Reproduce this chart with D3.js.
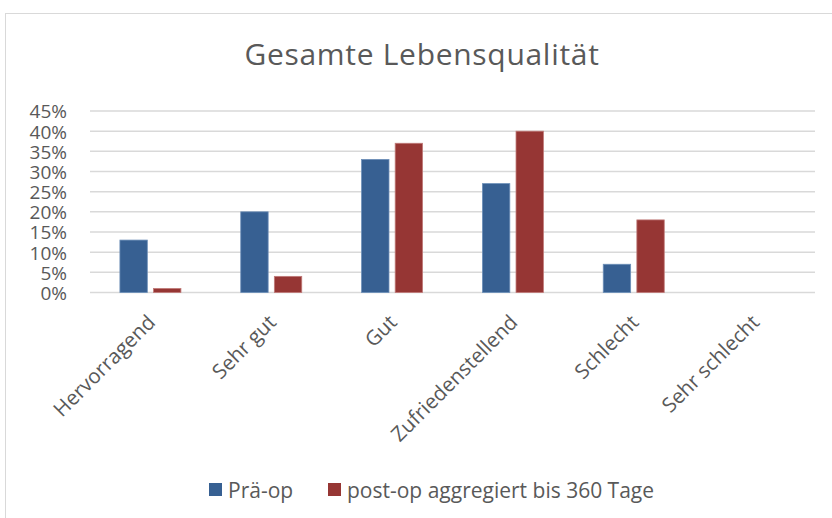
<!DOCTYPE html>
<html>
<head>
<meta charset="utf-8">
<script src="https://cdn.jsdelivr.net/npm/d3@7"></script>
<style>
  body { margin: 0; background: #fff; }
  text { font-family: "Open Sans", sans-serif; fill: #595959; }
</style>
</head>
<body>
<div id="chart"></div>
<script>
const categories = ["Hervorragend", "Sehr gut", "Gut", "Zufriedenstellend", "Schlecht", "Sehr schlecht"]
const seriesNames = ["Prä-op", "post-op aggregiert bis 360 Tage"]
const praeOp = [13, 20, 33, 27, 7, 0]
const postOp = [1, 4, 37, 40, 18, 0]
const yTicks = [0, 5, 10, 15, 20, 25, 30, 35, 40, 45]

const colors = ["#376092", "#963634"]

const W = 832, H = 518
const plot = { left: 90, right: 815, top: 111, bottom: 292.5 }

const svg = d3.select("#chart").append("svg")
    .attr("width", W)
    .attr("height", H)

// chart frame
svg.append("rect")
    .attr("x", 5.5).attr("y", 13.5)
    .attr("width", 840).attr("height", 520)
    .attr("fill", "#fff")
    .attr("stroke", "#d9d9d9")
    .attr("stroke-width", 1)

svg.append("text")
    .attr("x", 422).attr("y", 65)
    .attr("text-anchor", "middle")
    .style("font-size", "30px")
    .style("letter-spacing", "0.7px")
    .text("Gesamte Lebensqualität")

const x0 = d3.scaleBand()
    .domain(categories)
    .range([plot.left, plot.right])

const yScale = d3.scaleLinear()
    .domain([0, 45])
    .range([plot.bottom, plot.top])

// gridlines
svg.append("g")
    .selectAll("line")
    .data(yTicks)
    .join("line")
    .attr("x1", plot.left).attr("x2", plot.right)
    .attr("y1", d => yScale(d)).attr("y2", d => yScale(d))
    .attr("stroke", "#d9d9d9")
    .attr("stroke-width", 1.5)

// y axis labels
const yAxis = d3.axisLeft(yScale)
    .tickValues(yTicks)
    .tickFormat(d => d + "%")
    .tickSize(0)
    .tickPadding(0)

svg.append("g")
    .attr("transform", `translate(67,0)`)
    .call(yAxis)
    .call(g => g.select(".domain").remove())
    .selectAll("text")
    .style("font-size", "19px")
    .style("font-family", "'Open Sans', sans-serif")
    .attr("fill", "#595959")
    .attr("dy", "0.36em")

// bars
const barW = 27.4, barGap = 6.2
const data = categories.map((c, i) => ({ cat: c, vals: [praeOp[i], postOp[i]] }))

const groups = svg.append("g")
    .selectAll("g")
    .data(data)
    .join("g")
    .attr("transform", d => `translate(${x0(d.cat) + x0.bandwidth() / 2},0)`)

groups.selectAll("rect")
    .data(d => d.vals.map((v, k) => ({ v, k })))
    .join("rect")
    .attr("x", d => d.k === 0 ? -barW - barGap / 2 : barGap / 2)
    .attr("width", barW)
    .attr("y", d => yScale(d.v))
    .attr("height", d => yScale(0) - yScale(d.v))
    .attr("fill", d => colors[d.k])
    .attr("stroke", d => d.k === 0 ? "#6d8fb8" : "#c07b79")
    .attr("stroke-width", d => d.v > 0 ? 0.8 : 0)

// x labels rotated
svg.append("g")
    .selectAll("text")
    .data(categories)
    .join("text")
    .attr("transform", d => `translate(${x0(d) + x0.bandwidth() / 2 + 1},${plot.bottom + 26}) rotate(-45)`)
    .attr("text-anchor", "end")
    .attr("dy", "0.35em")
    .style("font-size", "20.5px")
    .text(d => d)

// legend
const legend = svg.append("g")
const legendX = [209, 328]
seriesNames.forEach((name, i) => {
    legend.append("rect")
        .attr("x", legendX[i]).attr("y", 483)
        .attr("width", 13).attr("height", 13)
        .attr("fill", colors[i])
    legend.append("text")
        .attr("x", legendX[i] + 19).attr("y", 498)
        .style("font-size", "21px")
        .text(name)
})
</script>
</body>
</html>
